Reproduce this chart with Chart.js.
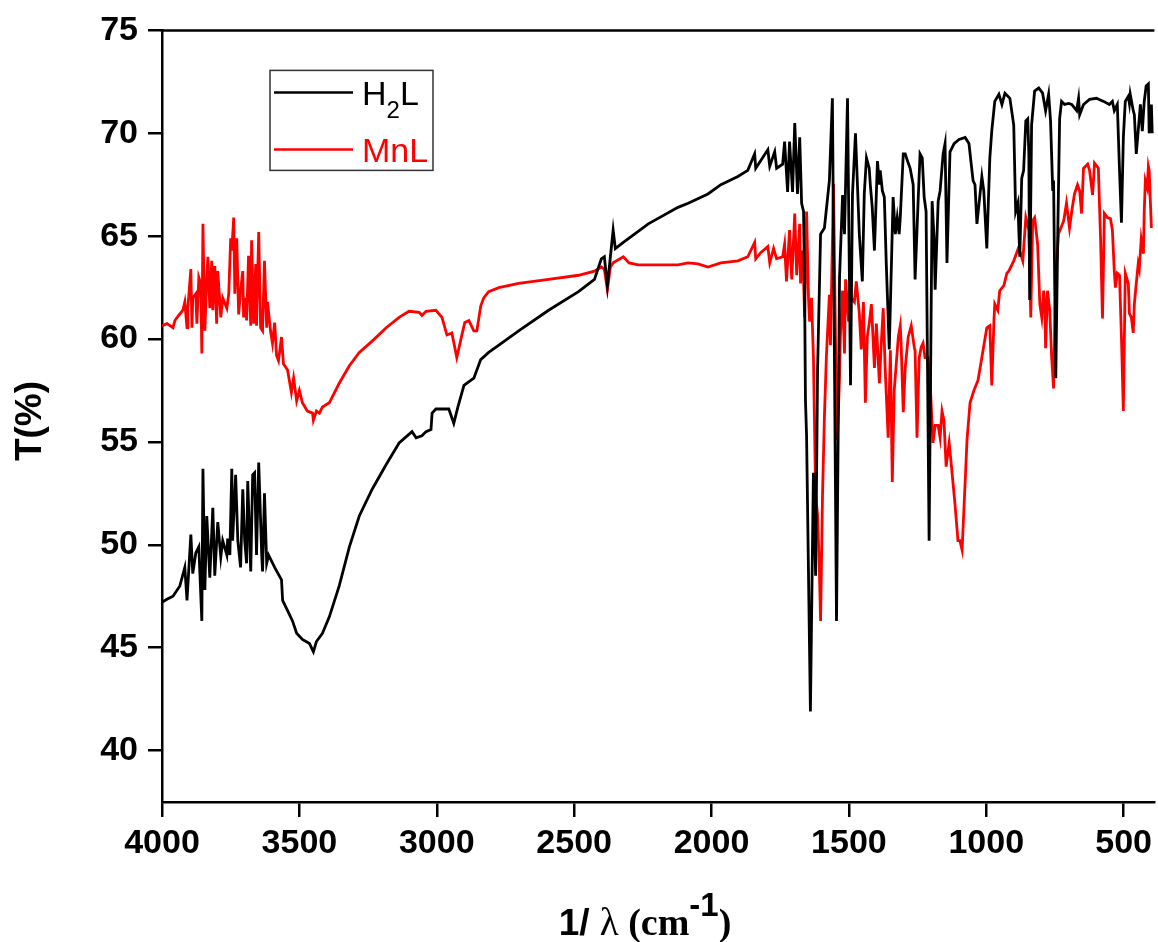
<!DOCTYPE html>
<html>
<head>
<meta charset="utf-8">
<script src="https://cdn.jsdelivr.net/npm/chart.js@4.4.1/dist/chart.umd.min.js"></script>
<style>
    html, body { margin: 0; padding: 0; background: #fff; }
    #contenitore { width: 1158px; height: 942px; }
</style>
</head>
<body>
<div id="contenitore"><canvas id="spettro"></canvas></div>
<script>
// Spettro IR del legante H2L (nero)
const h2lOnda = [4000, 3982, 3960, 3935, 3917, 3909, 3895, 3888, 3877, 3866, 3855, 3851, 3844, 3837, 3826, 3815, 3808, 3797, 3786, 3779,
    3764, 3761, 3753, 3746, 3743, 3732, 3724, 3714, 3706, 3699, 3692, 3688, 3677, 3670, 3663, 3656, 3648, 3637, 3634, 3627,
    3619, 3612, 3590, 3565, 3561, 3543, 3525, 3510, 3489, 3463, 3449, 3438, 3416, 3391, 3355, 3318, 3282, 3235, 3184, 3137,
    3090, 3075, 3054, 3039, 3021, 3017, 3003, 2956, 2938, 2923, 2901, 2865, 2840, 2811, 2774, 2702, 2593, 2484, 2426, 2401,
    2390, 2379, 2368, 2358, 2350, 2321, 2230, 2122, 2085, 2013, 1966, 1904, 1868, 1843, 1839, 1795, 1788, 1770, 1763, 1741,
    1734, 1723, 1716, 1705, 1697, 1687, 1679, 1672, 1665, 1661, 1658, 1654, 1640, 1632, 1629, 1621, 1614, 1603, 1589, 1571,
    1560, 1545, 1534, 1523, 1516, 1505, 1494, 1487, 1476, 1462, 1451, 1444, 1436, 1426, 1422, 1415, 1407, 1396, 1389, 1386,
    1378, 1371, 1364, 1353, 1339, 1331, 1324, 1317, 1313, 1302, 1295, 1284, 1277, 1266, 1259, 1248, 1241, 1233, 1226, 1219,
    1208, 1197, 1190, 1186, 1175, 1168, 1157, 1150, 1143, 1132, 1117, 1099, 1077, 1063, 1048, 1041, 1034, 1016, 1009, 998,
    987, 980, 969, 954, 943, 932, 914, 900, 893, 885, 878, 871, 864, 856, 849, 845, 842, 835, 824, 809,
    795, 784, 773, 766, 758, 755, 747, 740, 733, 726, 715, 700, 689, 671, 664, 660, 646, 624, 599, 573,
    552, 541, 534, 523, 515, 508, 501, 494, 483, 479, 476, 465, 461, 454, 447, 439, 432, 425, 418, 410,
    407, 399, 396];
const h2lT = [47.2, 47.35, 47.5, 48.0, 48.9, 47.3, 50.5, 48.6, 49.6, 49.9, 46.3, 53.7, 47.8, 51.4, 48.4, 51.8, 48.5, 51.1, 49.4, 50.2,
    49.5, 50.3, 49.5, 53.7, 50.2, 53.4, 50.2, 48.9, 52.7, 50.2, 49.1, 53.1, 48.7, 53.4, 53.5, 49.5, 54.0, 49.5, 48.7, 52.5,
    49.1, 49.5, 48.9, 48.3, 47.3, 46.8, 46.3, 45.7, 45.4, 45.2, 44.8, 45.3, 45.7, 46.5, 48.0, 49.9, 51.4, 52.7, 53.9, 54.95,
    55.5, 55.2, 55.3, 55.5, 55.6, 56.4, 56.6, 56.6, 55.9, 56.7, 57.75, 58.1, 59.0, 59.35, 59.7, 60.4, 61.4, 62.3, 62.9, 63.9,
    64.0, 62.6, 64.0, 65.3, 64.4, 64.7, 65.6, 66.4, 66.6, 67.05, 67.5, 67.9, 68.2, 69.0, 68.3, 69.2, 68.4, 69.1, 68.3, 68.5,
    69.6, 67.15, 69.6, 67.15, 70.5, 67.05, 69.8, 66.6, 66.2, 62.0, 57.0, 55.3, 41.9, 50.5, 53.5, 48.5, 58.5, 65.1, 65.4, 67.7,
    71.7, 46.3, 63.0, 67.0, 65.1, 71.7, 57.75, 67.0, 70.0, 65.1, 62.8, 67.05, 68.8, 68.3, 67.5, 66.4, 64.3, 68.65, 67.5, 68.2,
    67.2, 66.9, 63.7, 59.5, 66.9, 65.1, 65.9, 65.1, 65.9, 69.0, 69.0, 68.55, 68.3, 67.5, 62.9, 66.7, 69.0, 68.8, 66.9, 66.2,
    50.2, 66.7, 64.9, 62.4, 66.7, 67.2, 69.0, 69.5, 63.7, 69.1, 69.5, 69.7, 69.8, 69.5, 67.7, 67.5, 65.6, 67.9, 67.2, 64.4,
    68.8, 70.1, 71.55, 71.9, 71.4, 71.95, 71.7, 70.4, 66.2, 66.6, 64.0, 67.8, 68.2, 70.6, 70.7, 69.0, 61.9, 70.4, 72.05, 72.2,
    71.95, 71.1, 71.9, 70.6, 67.2, 67.7, 58.1, 64.9, 70.7, 71.55, 71.4, 71.45, 71.4, 71.1, 71.7, 70.9, 71.4, 71.65, 71.7, 71.55,
    71.4, 71.55, 71.1, 71.4, 68.2, 65.65, 69.8, 71.55, 71.8, 71.45, 71.9, 71.1, 70.9, 69.0, 70.1, 71.4, 70.1, 71.55, 72.3, 72.4,
    70.0, 71.4, 70.0];

// Spettro IR del complesso MnL (rosso)
const mnlOnda = [4000, 3982, 3960, 3953, 3942, 3924, 3917, 3909, 3906, 3895, 3891, 3888, 3877, 3873, 3866, 3859, 3855, 3851, 3844, 3837,
    3833, 3826, 3819, 3815, 3808, 3801, 3797, 3786, 3779, 3764, 3757, 3750, 3746, 3739, 3735, 3728, 3721, 3714, 3706, 3703,
    3695, 3692, 3685, 3677, 3674, 3666, 3659, 3656, 3648, 3641, 3634, 3627, 3619, 3616, 3605, 3598, 3590, 3583, 3576, 3565,
    3558, 3543, 3529, 3521, 3510, 3500, 3489, 3471, 3452, 3449, 3438, 3427, 3416, 3391, 3355, 3318, 3282, 3235, 3184, 3137,
    3101, 3064, 3054, 3039, 3003, 2981, 2963, 2945, 2927, 2912, 2898, 2883, 2865, 2854, 2840, 2829, 2811, 2774, 2702, 2593,
    2484, 2426, 2401, 2390, 2379, 2368, 2358, 2321, 2300, 2267, 2122, 2085, 2049, 2013, 1966, 1904, 1868, 1843, 1839, 1821,
    1795, 1788, 1774, 1763, 1741, 1734, 1727, 1716, 1708, 1697, 1690, 1679, 1676, 1668, 1661, 1654, 1647, 1643, 1636, 1629,
    1621, 1614, 1607, 1603, 1596, 1589, 1582, 1571, 1567, 1556, 1549, 1542, 1534, 1531, 1523, 1516, 1512, 1501, 1494, 1491,
    1480, 1473, 1462, 1455, 1447, 1440, 1433, 1426, 1418, 1407, 1400, 1389, 1382, 1375, 1368, 1357, 1349, 1342, 1335, 1320,
    1313, 1310, 1302, 1295, 1284, 1273, 1262, 1259, 1252, 1244, 1237, 1230, 1223, 1212, 1204, 1194, 1186, 1175, 1168, 1161,
    1154, 1146, 1135, 1128, 1114, 1103, 1096, 1088, 1081, 1070, 1059, 1045, 1030, 1016, 998, 987, 980, 972, 969, 958,
    951, 936, 925, 918, 900, 882, 867, 856, 845, 838, 831, 824, 813, 805, 798, 791, 787, 784, 777, 769,
    762, 755, 747, 737, 718, 708, 697, 689, 679, 668, 660, 653, 646, 631, 624, 613, 606, 592, 584, 577,
    570, 559, 548, 541, 534, 530, 523, 515, 508, 501, 494, 483, 479, 472, 465, 461, 454, 447, 443, 436,
    428, 425, 421, 414, 410, 407, 399];
const mnlT = [60.65, 60.75, 60.55, 60.9, 61.1, 61.4, 61.8, 60.55, 61.5, 63.4, 60.55, 62.0, 62.2, 60.75, 63.0, 62.7, 59.3, 65.6, 60.4, 63.0,
    64.0, 61.5, 63.8, 61.4, 63.55, 60.75, 63.3, 61.05, 62.0, 61.5, 62.2, 64.9, 64.3, 65.9, 62.2, 64.9, 61.2, 62.35, 63.3, 61.05,
    62.0, 60.9, 64.05, 60.65, 64.8, 60.75, 63.65, 60.65, 65.2, 60.55, 60.4, 63.8, 60.55, 61.8, 60.4, 59.8, 60.8, 59.2, 58.95, 60.1,
    58.8, 58.5, 57.4, 58.1, 57.0, 57.5, 56.9, 56.5, 56.4, 56.05, 56.5, 56.4, 56.7, 56.9, 57.85, 58.7, 59.35, 59.9, 60.55, 61.05,
    61.35, 61.3, 61.15, 61.35, 61.4, 61.05, 60.2, 60.3, 59.1, 60.0, 60.8, 60.9, 60.4, 60.4, 61.6, 62.0, 62.3, 62.5, 62.7, 62.9,
    63.1, 63.3, 63.5, 63.4, 62.4, 63.5, 63.7, 64.0, 63.7, 63.6, 63.6, 63.7, 63.65, 63.5, 63.7, 63.8, 64.0, 64.7, 63.9, 64.2,
    64.5, 63.7, 64.4, 63.9, 64.0, 64.6, 62.8, 65.3, 62.9, 66.1, 63.1, 65.6, 62.7, 64.3, 61.05, 66.2, 62.0, 60.85, 62.0, 59.1,
    52.4, 51.45, 48.6, 46.3, 52.4, 56.25, 59.1, 62.15, 59.7, 67.55, 60.1, 55.1, 58.1, 60.1, 62.35, 59.3, 62.9, 60.85, 62.75, 62.0,
    61.8, 62.8, 61.25, 59.5, 61.8, 56.9, 60.1, 60.75, 61.7, 58.6, 60.75, 57.85, 59.8, 61.5, 58.6, 55.2, 59.45, 53.05, 57.5, 60.1,
    60.65, 59.8, 56.45, 58.6, 60.1, 60.65, 59.6, 59.45, 55.2, 59.1, 59.6, 59.8, 59.1, 59.1, 57.85, 54.95, 55.8, 55.8, 55.2, 56.5,
    56.05, 53.8, 54.95, 54.0, 52.0, 50.2, 50.2, 49.75, 51.8, 55.1, 56.9, 57.5, 58.0, 59.1, 60.55, 60.65, 57.75, 60.9, 61.7, 61.4,
    62.35, 62.6, 63.2, 63.3, 63.8, 64.45, 63.8, 65.9, 65.3, 61.05, 65.75, 65.9, 64.6, 61.7, 61.05, 62.35, 61.7, 59.55, 62.35, 61.4,
    59.1, 57.6, 63.0, 65.1, 65.75, 66.6, 65.4, 66.2, 67.05, 67.5, 67.2, 66.1, 68.3, 68.5, 68.2, 67.0, 68.55, 68.3, 64.9, 61.0,
    66.1, 65.9, 65.85, 65.3, 63.3, 62.5, 63.2, 63.1, 60.1, 56.5, 63.2, 62.7, 61.25, 61.05, 60.3, 61.7, 62.7, 63.65, 63.4, 64.85,
    64.15, 66.2, 67.7, 67.35, 68.4, 68.2, 65.4];

const tickOnda = [4000, 3500, 3000, 2500, 2000, 1500, 1000, 500];
const tickT = [40, 45, 50, 55, 60, 65, 70, 75];
const nomiSerie = ["H2L", "MnL"];
const coloriSerie = ["#000000", "#ff0000"];

const SANS = "'Liberation Sans', Arial, sans-serif";
const SERIF = "'Liberation Serif', 'Times New Roman', serif";

function punti(onde, valori) {
    return onde.map((w, i) => ({ x: w, y: valori[i] }));
}

// Bordo superiore, legenda e titoli degli assi
const decorazioni = {
    id: "decorazioni",
    afterDraw(chart) {
        const ctx = chart.ctx;
        const area = chart.chartArea;
        ctx.save();

        ctx.strokeStyle = "#000";
        ctx.lineWidth = 2.5;
        ctx.beginPath();
        ctx.moveTo(area.left - 1.25, area.top);
        ctx.lineTo(area.right, area.top);
        ctx.stroke();

        // legenda
        const lx = area.left + 108;
        const ly = area.top + 40;
        ctx.lineWidth = 1.5;
        ctx.strokeStyle = "#333";
        ctx.strokeRect(lx, ly, 163, 100);

        ctx.textBaseline = "alphabetic";
        ctx.textAlign = "left";
        const righe = [ly + 22, ly + 79];
        righe.forEach((yy, i) => {
            ctx.strokeStyle = coloriSerie[i];
            ctx.lineWidth = 2.5;
            ctx.beginPath();
            ctx.moveTo(lx + 4, yy);
            ctx.lineTo(lx + 83, yy);
            ctx.stroke();
        });

        ctx.fillStyle = coloriSerie[0];
        ctx.font = "34px " + SANS;
        let tx = lx + 92;
        ctx.fillText("H", tx, ly + 35);
        tx += ctx.measureText("H").width;
        ctx.font = "24px " + SANS;
        ctx.fillText("2", tx, ly + 48);
        tx += ctx.measureText("2").width;
        ctx.font = "34px " + SANS;
        ctx.fillText("L", tx, ly + 35);

        ctx.fillStyle = coloriSerie[1];
        ctx.fillText(nomiSerie[1], lx + 92, ly + 92);

        // titolo asse y
        ctx.fillStyle = "#000";
        ctx.save();
        ctx.translate(31, 421);
        ctx.rotate(-Math.PI / 2);
        ctx.textAlign = "center";
        ctx.textBaseline = "middle";
        ctx.font = "bold 37px " + SANS;
        ctx.fillText("T(%)", 0, 0);
        ctx.restore();

        // titolo asse x: 1/ λ (cm^-1)
        const pezzi = [
            { t: "1/ ", f: "bold 37px " + SANS, dy: 0 },
            { t: "λ", f: "39px " + SERIF, dy: 0 },
            { t: " (cm", f: "bold 38px " + SERIF, dy: 0 },
            { t: "-1", f: "bold 33px " + SANS, dy: -19 },
            { t: ")", f: "bold 38px " + SERIF, dy: 0 }
        ];
        let totale = 0;
        pezzi.forEach(p => { ctx.font = p.f; p.w = ctx.measureText(p.t).width; totale += p.w; });
        let px = 645 - totale / 2;
        const base = 935;
        pezzi.forEach(p => {
            ctx.font = p.f;
            ctx.fillText(p.t, px, base + p.dy);
            px += p.w;
        });

        ctx.restore();
    }
};

new Chart(document.getElementById("spettro"), {
    type: "line",
    data: {
        datasets: [
            {
                label: nomiSerie[0],
                data: punti(h2lOnda, h2lT),
                borderColor: coloriSerie[0],
                borderWidth: 2.8,
                pointRadius: 0,
                tension: 0,
                fill: false
            },
            {
                label: nomiSerie[1],
                data: punti(mnlOnda, mnlT),
                borderColor: coloriSerie[1],
                borderWidth: 2.8,
                pointRadius: 0,
                tension: 0,
                fill: false
            }
        ]
    },
    options: {
        responsive: true,
        maintainAspectRatio: false,
        animation: false,
        layout: { padding: { top: 29, right: 0, left: 0, bottom: 0 } },
        plugins: {
            legend: { display: false },
            tooltip: { enabled: false }
        },
        scales: {
            x: {
                type: "linear",
                reverse: true,
                min: 388,
                max: 4000,
                afterBuildTicks: scale => { scale.ticks = tickOnda.map(v => ({ value: v })); },
                afterFit: scale => { scale.height = 140; },
                border: { display: true, color: "#000", width: 2.5 },
                grid: { drawOnChartArea: false, drawTicks: true, tickLength: 15, color: "#000", lineWidth: 2.5 },
                ticks: {
                    color: "#000",
                    padding: 6,
                    maxRotation: 0,
                    autoSkip: false,
                    callback: v => String(v),
                    font: { family: SANS, size: 34, weight: "bold" }
                }
            },
            y: {
                min: 37.5,
                max: 75,
                afterBuildTicks: scale => { scale.ticks = tickT.map(v => ({ value: v })); },
                afterFit: scale => { scale.width = 162; },
                border: { display: true, color: "#000", width: 2.5 },
                grid: { drawOnChartArea: false, drawTicks: true, tickLength: 14, color: "#000", lineWidth: 2.5 },
                ticks: {
                    color: "#000",
                    padding: 10,
                    autoSkip: false,
                    callback: v => String(v),
                    font: { family: SANS, size: 34, weight: "bold" }
                }
            }
        }
    },
    plugins: [decorazioni]
});
</script>
</body>
</html>
